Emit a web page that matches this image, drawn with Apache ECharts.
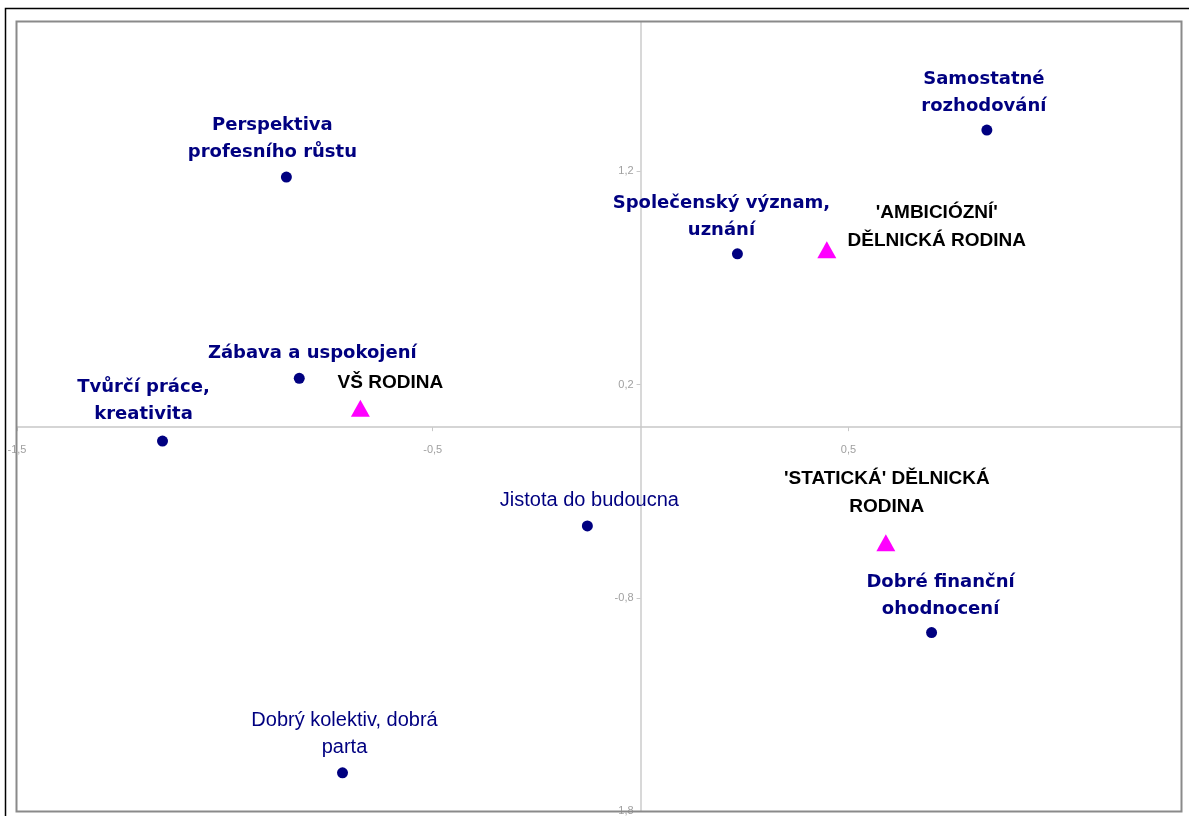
<!DOCTYPE html>
<html>
<head>
<meta charset="utf-8">
<script src="https://cdn.jsdelivr.net/npm/echarts@6/dist/echarts.min.js"></script>
<style>
  html, body { margin: 0; padding: 0; background: #fff; }
  #chart { width: 1189px; height: 816px; }
</style>
</head>
<body>
<div id="chart"></div>
<script>
// values
var itemNames = ['Samostatné\nrozhodování', 'Perspektiva\nprofesního růstu', 'Společenský význam,\nuznání',
  'Zábava a uspokojení', 'Tvůrčí práce,\nkreativita', 'Jistota do budoucna',
  'Dobré finanční\nohodnocení', 'Dobrý kolektiv, dobrá\nparta'];
var itemX = [0.833, -0.852, 0.233, -0.821, -1.150, -0.128, 0.700, -0.717];
var itemY = [1.393, 1.173, 0.813, 0.229, -0.065, -0.463, -0.963, -1.621];
var itemBold = [true, true, true, true, true, false, true, false];

var familyNames = ["'AMBICIÓZNÍ'\nDĚLNICKÁ RODINA", 'VŠ RODINA', "'STATICKÁ' DĚLNICKÁ\nRODINA"];
var familyX = [0.448, -0.674, 0.590];
var familyY = [0.832, 0.089, -0.542];

var xTicks = [-1.5, -0.5, 0.5];
var yTicks = [-1.8, -0.8, 0.2, 1.2];
var xRange = [-1.5, 1.3];
var yRange = [-1.8, 1.9];

// label nudges [dx, dy] (layout only)
var itemNudge = [[-3, 1], [-14, 0], [-16, 2], [13, 0], [-19, -2], [2, 0], [9, 2], [2, 0]];
var familyNudge = [[110, 20], [30, 3], [1, -7]];

var W = 1189, H = 816;
var grid = { left: 17, right: 8, top: 22, bottom: 5 };
var gw = W - grid.left - grid.right, gh = H - grid.top - grid.bottom;
// put the axes where zero is (Excel-style crossing)
var yAxisShift = (0 - xRange[0]) / (xRange[1] - xRange[0]) * gw;
var xAxisShift = (0 - yRange[0]) / (yRange[1] - yRange[0]) * gh;

var chart = echarts.init(document.getElementById('chart'));

function fmt(v) { return String(v).replace('.', ','); }

var itemData = itemX.map(function (x, i) {
  return {
    value: [x, itemY[i]],
    name: itemNames[i],
    label: {
      fontWeight: itemBold[i] ? 'bold' : 'normal',
      fontFamily: itemBold[i] ? 'DejaVu Sans' : 'Liberation Sans',
      fontSize: itemBold[i] ? 18 : 20,
      offset: itemNudge[i]
    }
  };
});
var familyData = familyX.map(function (x, i) {
  return { value: [x, familyY[i]], name: familyNames[i], label: { offset: familyNudge[i] } };
});

var labelCommon = { color: '#a0a0a0', fontSize: 11, fontFamily: 'Liberation Sans', formatter: fmt };

var option = {
  animation: false,
  graphic: [
    { type: 'rect', left: 3, top: 6, shape: { width: 1200, height: 820 },
      style: { fill: 'none', stroke: '#000', lineWidth: 1.5 }, silent: true },
    { type: 'rect', left: 14, top: 19, shape: { width: 1165, height: 790 },
      style: { fill: 'none', stroke: '#8a8a8a', lineWidth: 2 }, silent: true, z: 10 }
  ],
  grid: { left: grid.left, right: grid.right, top: grid.top, bottom: grid.bottom, containLabel: false, outerBoundsMode: 'none' },
  xAxis: {
    type: 'value',
    min: xRange[0], max: xRange[1], interval: 1,
    position: 'bottom',
    offset: -xAxisShift,
    splitLine: { show: false },
    axisLine: { onZero: false, lineStyle: { color: '#c8c8c8', width: 1.5 } },
    axisTick: { length: 4, customValues: xTicks, lineStyle: { color: '#c8c8c8' } },
    axisLabel: Object.assign({}, labelCommon, { customValues: xTicks, margin: 17 })
  },
  yAxis: {
    type: 'value',
    min: yRange[0], max: yRange[1], interval: 1,
    position: 'left',
    offset: -yAxisShift,
    splitLine: { show: false },
    axisLine: { onZero: false, lineStyle: { color: '#d8d8d8', width: 2 } },
    axisTick: { length: 4, customValues: yTicks, lineStyle: { color: '#c8c8c8' } },
    axisLabel: Object.assign({}, labelCommon, { customValues: yTicks, margin: 7 })
  },
  series: [
    {
      type: 'scatter',
      data: itemData,
      symbol: 'circle',
      symbolSize: 11,
      itemStyle: { color: '#000080', opacity: 1 },
      label: {
        show: true,
        position: 'top',
        distance: 6,
        formatter: '{b}',
        color: '#000080',
        lineHeight: 27,
        align: 'center'
      }
    },
    {
      type: 'scatter',
      data: familyData,
      symbol: 'triangle',
      symbolSize: [19, 17],
      itemStyle: { color: '#ff00ff', opacity: 1 },
      label: {
        show: true,
        position: 'top',
        distance: 6,
        formatter: '{b}',
        color: '#000',
        fontWeight: 'bold',
        fontFamily: 'Liberation Sans',
        fontSize: 19,
        lineHeight: 28,
        align: 'center'
      }
    }
  ]
};
chart.setOption(option);
</script>
</body>
</html>
